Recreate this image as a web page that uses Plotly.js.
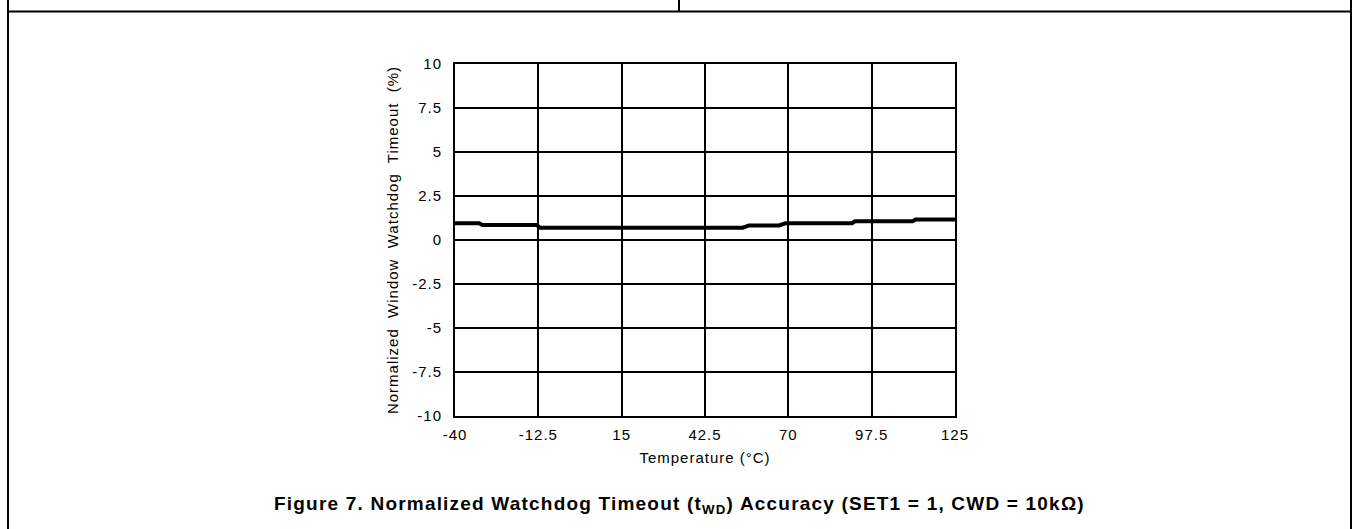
<!DOCTYPE html>
<html>
<head>
<meta charset="utf-8">
<script src="https://cdn.plot.ly/plotly-3.0.1.min.js"></script>
<style>
html,body{margin:0;padding:0;background:#fff;}
#chart{width:1357px;height:529px;}
#chart .xtick text,#chart .ytick text,#chart .g-xtitle text,#chart .g-ytitle text{letter-spacing:1px;}
#chart .annotation-text{letter-spacing:1.2px;}
</style>
</head>
<body>
<div id="chart"></div>
<script>
// Data
const temperature = [-40, -32, -31, -13, -12, 55, 57, 67, 69, 91, 92, 111, 112, 125];
const timeoutAccuracy = [0.95, 0.95, 0.85, 0.85, 0.7, 0.7, 0.83, 0.83, 0.95, 0.95, 1.06, 1.06, 1.16, 1.16];
const xTickVals = [-40, -12.5, 15, 42.5, 70, 97.5, 125];
const xTickText = ["-40", "-12.5", "15", "42.5", "70", "97.5", "125"];
const yTickVals = [-10, -7.5, -5, -2.5, 0, 2.5, 5, 7.5, 10];
const yTickText = ["-10", "-7.5", "-5", "-2.5", "0", "2.5", "5", "7.5", "10"];

const W = 1357, H = 529;
const L = 455, R = 955, T = 64, B = 416;
const px = x => (x - L) / (R - L);
const py = y => (B - y) / (B - T);

function line(x0, y0, x1, y1, w) {
  return {type: 'line', xref: 'paper', yref: 'paper',
    x0: px(x0), y0: py(y0), x1: px(x1), y1: py(y1),
    line: {color: '#000', width: w || 2}};
}

const font = {family: 'Liberation Sans, Arial, sans-serif', size: 15, color: '#000'};

const data = [{
  x: temperature,
  y: timeoutAccuracy,
  type: 'scatter',
  mode: 'lines',
  line: {color: '#000', width: 4},
  hoverinfo: 'skip'
}];

const layout = {
  width: W, height: H,
  margin: {l: L, r: W - R, t: T, b: H - B, pad: 0},
  paper_bgcolor: '#fff', plot_bgcolor: '#fff',
  showlegend: false,
  font: font,
  xaxis: {
    range: [-40, 125], tickmode: 'array', tickvals: xTickVals, ticktext: xTickText,
    showgrid: true, gridcolor: '#000', gridwidth: 2, zeroline: false,
    showline: true, linecolor: '#000', linewidth: 2, mirror: true,
    ticks: '', ticklabelstandoff: 4, tickfont: font,
    title: {text: 'Temperature (°C)', font: font, standoff: 10}
  },
  yaxis: {
    range: [-10, 10], tickmode: 'array', tickvals: yTickVals, ticktext: yTickText,
    showgrid: true, gridcolor: '#000', gridwidth: 2, zeroline: false,
    showline: true, linecolor: '#000', linewidth: 2, mirror: true,
    ticks: '', ticklabelstandoff: 8, tickfont: font,
    title: {text: 'Normalized  Window  Watchdog  Timeout  (%)', font: font, standoff: 14}
  },
  shapes: [
    line(8, 0, 8, 529, 2),
    line(1351, 0, 1351, 529, 2),
    line(8, 11.5, 1351, 11.5, 2),
    line(679, 0, 679, 11.5, 2)
  ],
  annotations: [{
    xref: 'paper', yref: 'paper', x: px(679), y: py(505),
    xanchor: 'center', yanchor: 'middle', showarrow: false,
    text: 'Figure 7. Normalized Watchdog Timeout (t<sub>WD</sub>) Accuracy (SET1 = 1, CWD = 10kΩ)',
    font: {family: 'Liberation Sans, Arial, sans-serif', size: 19, color: '#000', weight: 'bold'}
  }]
};

Plotly.newPlot('chart', data, layout, {staticPlot: true, displayModeBar: false});
</script>
</body>
</html>
